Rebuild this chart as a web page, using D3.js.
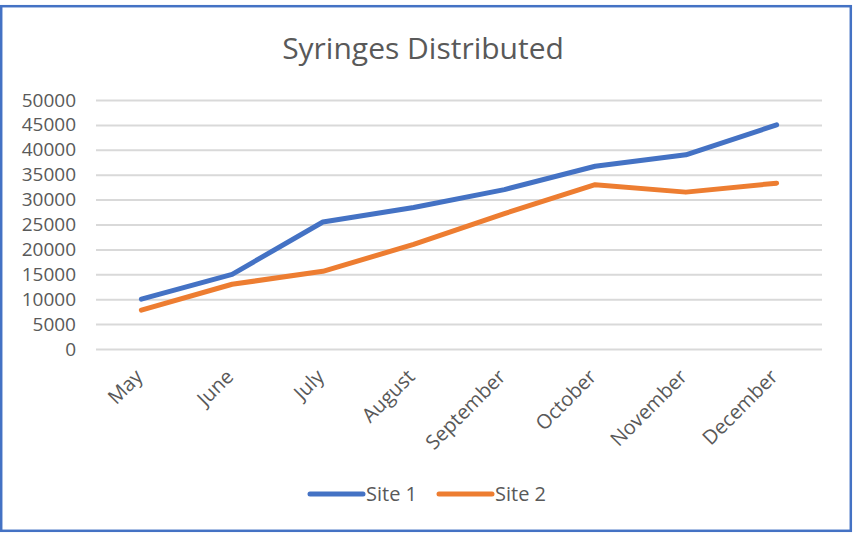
<!DOCTYPE html>
<html lang="en">
<head>
    <meta charset="UTF-8">
    <title>Syringes Distributed</title>
    <script src="https://d3js.org/d3.v7.min.js"></script>
    <style>
        body { margin: 0; background: #fff; }
        text { font-family: "Open Sans", sans-serif; fill: #595959; }
    </style>
</head>
<body>
    <div id="chart"></div>
    <script>
        // data
        const months = ["May", "June", "July", "August", "September", "October", "November", "December"];
        const site1 = [10000, 15000, 25500, 28400, 32000, 36700, 39000, 45000];
        const site2 = [7800, 13000, 15600, 21000, 27200, 33000, 31500, 33300];
        const yTicks = [0, 5000, 10000, 15000, 20000, 25000, 30000, 35000, 40000, 45000, 50000];
        const seriesNames = ["Site 1", "Site 2"];
        const colors = ["#4472C4", "#ED7D31"];

        const W = 859, H = 533;
        const plot = {left: 96, right: 822, top: 100, bottom: 349};

        const svg = d3.select("#chart")
            .append("svg")
            .attr("width", W)
            .attr("height", H);

        // chart border
        svg.append("rect")
            .attr("x", 1.2).attr("y", 6.2)
            .attr("width", 849.6).attr("height", 524.6)
            .attr("fill", "#fff")
            .attr("stroke", "#4472C4")
            .attr("stroke-width", 2.5);

        // title
        svg.append("text")
            .attr("x", 423).attr("y", 59)
            .attr("text-anchor", "middle")
            .style("font-size", "30px")
            .text("Syringes Distributed");

        const x = d3.scalePoint()
            .domain(months)
            .range([plot.left, plot.right])
            .padding(0.5);

        const y = d3.scaleLinear()
            .domain([0, 50000])
            .range([plot.bottom, plot.top]);

        // gridlines
        svg.append("g")
            .attr("transform", `translate(${plot.left},0)`)
            .call(d3.axisRight(y).tickValues(yTicks).tickSize(plot.right - plot.left).tickFormat(""))
            .call(g => g.select(".domain").remove())
            .call(g => g.selectAll("line").attr("stroke", "#D9D9D9").attr("stroke-width", 2));

        // y axis labels
        svg.append("g")
            .attr("transform", `translate(${plot.left - 20},0)`)
            .call(d3.axisLeft(y).tickValues(yTicks).tickSize(0).tickPadding(0).tickFormat(d3.format("d")))
            .call(g => g.select(".domain").remove())
            .call(g => g.selectAll("text").style("font-size", "19px").attr("fill", "#595959"));

        // x axis labels
        svg.append("g")
            .attr("transform", `translate(0,${plot.bottom})`)
            .call(d3.axisBottom(x).tickSize(0).tickPadding(0))
            .call(g => g.select(".domain").remove())
            .call(g => g.selectAll("text")
                .style("font-size", "20px")
                .attr("fill", "#595959")
                .attr("text-anchor", "end")
                .attr("dy", "0.35em")
                .attr("transform", "translate(-3,24) rotate(-45)"));

        // lines
        const line = d3.line()
            .x((d, i) => x(months[i]))
            .y(d => y(d));

        [site1, site2].forEach((s, k) => {
            svg.append("path")
                .datum(s)
                .attr("fill", "none")
                .attr("stroke", colors[k])
                .attr("stroke-width", 5)
                .attr("stroke-linecap", "round")
                .attr("stroke-linejoin", "round")
                .attr("d", line);
        });

        // legend
        const legendX = [310, 439];
        seriesNames.forEach((name, k) => {
            const g = svg.append("g").attr("transform", `translate(${legendX[k]},494)`);
            g.append("line")
                .attr("x1", 0).attr("x2", 53)
                .attr("stroke", colors[k])
                .attr("stroke-width", 5)
                .attr("stroke-linecap", "round");
            g.append("text")
                .attr("x", 56).attr("dy", "0.35em")
                .style("font-size", "20px")
                .text(name);
        });
    </script>
</body>
</html>
